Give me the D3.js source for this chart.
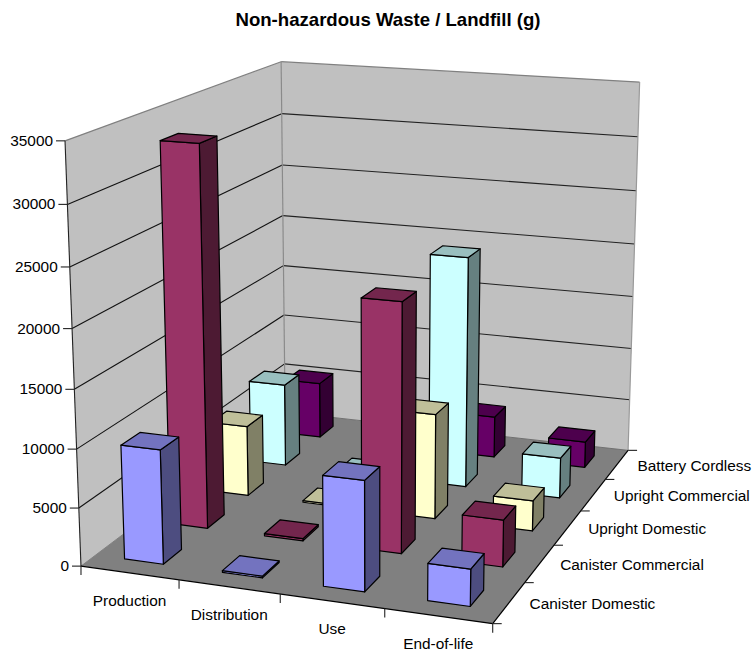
<!DOCTYPE html>
<html><head><meta charset="utf-8">
<script src="https://cdnjs.cloudflare.com/ajax/libs/d3/7.8.5/d3.min.js"></script>
<style>html,body{margin:0;padding:0;background:#fff}svg{display:block}text{font-family:"Liberation Sans",Arial,sans-serif;fill:#000}</style>
</head><body><svg id="c" width="754" height="655"></svg>
<script>
const title = "Non-hazardous Waste / Landfill (g)";
const stages = ["Production","Distribution","Use","End-of-life"];
const products = ["Canister Domestic","Canister Commercial","Upright Domestic","Upright Commercial","Battery Cordless"];
const zTicks = [0,5000,10000,15000,20000,25000,30000,35000];
const canisterDomestic   = [9800, 150, 9300, 3100];
const canisterCommercial = [33200, 200, 21500, 4050];
const uprightDomestic    = [6400, 150, 9400, 2700];
const uprightCommercial  = [7700, 150, 21150, 3700];
const batteryCordless    = [5350, 100, 3900, 2450];
const seriesValues = [canisterDomestic, canisterCommercial, uprightDomestic, uprightCommercial, batteryCordless];
const faceFront = ["#9999FF","#993366","#FFFFCC","#CCFFFF","#660066"];
const faceTop   = ["#7373BF","#73264D","#BFBF99","#99BFBF","#4D004D"];
const faceSide  = ["#4D4D80","#4D1A33","#808066","#668080","#330033"];

// Camera fit: measured positions of the chart box in the picture
const anchors = [
 [0,0,0,81,566],[1,0,0,493,623],[1,1,0,628,449],[0,1,0,285,413],
 [.25,0,0,179,580],[.5,0,0,280,594],[.75,0,0,384,608],
 [1,.2,0,525,583],[1,.4,0,554,546],[1,.6,0,582,512],[1,.8,0,605,480],
 [0,0,1,65,141],[0,1,1,281,62],[1,1,1,640,82],
 [0,0,1/7,79,507],[0,0,2/7,77,449],[0,0,3/7,74,390],[0,0,4/7,72,329],[0,0,5/7,70,267],[0,0,6/7,67,204],
 [0,1,1/7,284.5,364],[0,1,2/7,284,315],[0,1,3/7,283.5,266],[0,1,4/7,283,215],[0,1,5/7,282.5,165],[0,1,6/7,282,113],
 [1,1,1/7,629.5,399],[1,1,2/7,631,348],[1,1,3/7,633,297],[1,1,4/7,634,244],[1,1,5/7,636,191],[1,1,6/7,638,137]
];
function fit(pts){
  const n=11,A=d3.range(n).map(()=>new Array(n+1).fill(0));
  const add=(r,t)=>{for(let i=0;i<n;i++){for(let j=0;j<n;j++)A[i][j]+=r[i]*r[j];A[i][n]+=r[i]*t;}};
  pts.forEach(([x,y,z,u0,v0])=>{const u=u0/500,v=v0/500;
    add([x,y,z,1,0,0,0,0,-u*x,-u*y,-u*z],u);
    add([0,0,0,0,x,y,z,1,-v*x,-v*y,-v*z],v);});
  for(let c=0;c<n;c++){let p=c;for(let r=c+1;r<n;r++)if(Math.abs(A[r][c])>Math.abs(A[p][c]))p=r;
    [A[c],A[p]]=[A[p],A[c]];
    for(let r=0;r<n;r++)if(r!==c){const f=A[r][c]/A[c][c];for(let k=c;k<=n;k++)A[r][k]-=f*A[c][k];}}
  return A.map((r,i)=>r[n]/r[i]);
}
const m=fit(anchors);
function P(x,y,z){const w=m[8]*x+m[9]*y+m[10]*z+1;
  return [500*(m[0]*x+m[1]*y+m[2]*z+m[3])/w,500*(m[4]*x+m[5]*y+m[6]*z+m[7])/w];}

const xs=d3.scaleBand().domain(stages).range([0,1]);
const ys=d3.scaleBand().domain(products).range([0,1]);
const zs=d3.scaleLinear().domain([0,35000]).range([0,1]);
const svg=d3.select("#c");
const line=d3.line();
const poly=(pts,fill,stroke,sw)=>svg.append("path").attr("d",line(pts)+"Z").attr("fill",fill).attr("stroke",stroke||"none").attr("stroke-width",sw||1).attr("stroke-linejoin","round");
const seg=(a,b,stroke,sw)=>svg.append("path").attr("d",line([a,b])).attr("fill","none").attr("stroke",stroke).attr("stroke-width",sw||1);

svg.append("text").attr("x",388).attr("y",26).attr("text-anchor","middle").attr("font-weight","bold").attr("font-size",18.6).text(title);

// walls and floor
poly([P(0,0,0),P(0,1,0),P(0,1,1),P(0,0,1)],"#C0C0C0");
poly([P(0,1,0),P(1,1,0),P(1,1,1),P(0,1,1)],"#C0C0C0");
poly([P(0,0,0),P(1,0,0),P(1,1,0),P(0,1,0)],"#808080");
zTicks.slice(1,-1).forEach(t=>{const z=zs(t);
  seg(P(0,0,z),P(0,1,z),"#111",1.1);seg(P(0,1,z),P(1,1,z),"#222",1.1);});
seg(P(0,0,1),P(0,1,1),"#808080",1.2);seg(P(0,1,1),P(1,1,1),"#808080",1.2);
seg(P(0,1,0),P(0,1,1),"#8a8a8a",1.2);seg(P(1,1,0),P(1,1,1),"#999",1.2);
seg(P(0,0,0),P(0,1,0),"#808080",1);seg(P(0,1,0),P(1,1,0),"#707070",1);

// axes
seg(P(0,0,0),P(0,0,1),"#222",1.1);
seg(P(0,0,0),P(1,0,0),"#000",1.2);
seg(P(1,0,0),P(1,1,0),"#000",1.2);
zTicks.forEach(t=>{const p=P(0,0,zs(t));
  seg([p[0]-9,p[1]],p,"#222",1.1);
  svg.append("text").attr("x",p[0]-12).attr("y",p[1]+5).attr("text-anchor","end").attr("font-size",15.4).text(t);});
d3.range(stages.length+1).forEach(i=>{const p=P(i/stages.length,0,0);seg(p,[p[0],p[1]+9],"#222",1.1);});
d3.range(products.length+1).forEach(i=>{const p=P(1,i/products.length,0);seg(p,[p[0]+9,p[1]],"#222",1.1);});
stages.forEach(s=>{const p=P(xs(s)+xs.bandwidth()/2,0,0);
  svg.append("text").attr("x",p[0]).attr("y",p[1]+33).attr("text-anchor","middle").attr("font-size",15.4).text(s);});
products.forEach(s=>{const p=P(1,ys(s)+ys.bandwidth()/2,0);
  svg.append("text").attr("x",p[0]+20.5).attr("y",p[1]+6).attr("font-size",15.4).text(s);});

// bars, painted back to front
const gap=0.3;
d3.range(products.length-1,-1,-1).forEach(si=>{
  stages.forEach((st,ci)=>{
    const x0=xs(st)+xs.bandwidth()*gap,x1=xs(st)+xs.bandwidth()*(1-gap);
    const y0=ys(products[si])+ys.bandwidth()*gap,y1=ys(products[si])+ys.bandwidth()*(1-gap);
    const h=zs(seriesValues[si][ci]);
    poly([P(x1,y0,0),P(x1,y1,0),P(x1,y1,h),P(x1,y0,h)],faceSide[si],"#000",1.2);
    poly([P(x0,y0,0),P(x1,y0,0),P(x1,y0,h),P(x0,y0,h)],faceFront[si],"#000",1.2);
    poly([P(x0,y0,h),P(x1,y0,h),P(x1,y1,h),P(x0,y1,h)],faceTop[si],"#000",1.2);
  });
});
</script></body></html>
